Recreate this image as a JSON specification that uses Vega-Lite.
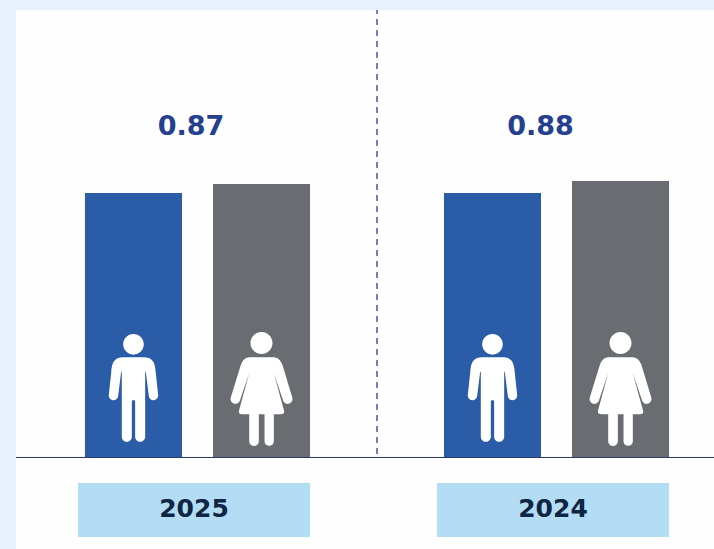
{
"$schema":"https://vega.github.io/schema/vega-lite/v6.json",
"width":698,"height":539,
"autosize":{"type":"none"},
"padding":{"left":16,"top":10,"right":0,"bottom":0},
"background":"#e8f1fb",
"view":{"fill":"#fefefe","stroke":null},
"datasets":{
"bars":[
{"year":"2025","sex":"Male","value":264},
{"year":"2025","sex":"Female","value":273},
{"year":"2024","sex":"Male","value":264},
{"year":"2024","sex":"Female","value":276}],
"years":[{"year":"2025","ratio":"0.87"},{"year":"2024","ratio":"0.88"}]
},
"data":{"name":"bars"},
"encoding":{
"x":{"field":"year","type":"nominal","axis":null,"sort":null,"scale":{"domain":["2025","2024"],"range":[2,720],"paddingInner":0,"paddingOuter":0}}
},
"layer":[
{"mark":{"type":"bar","cornerRadius":0},
"encoding":{
"xOffset":{"field":"sex","type":"nominal","sort":null,"scale":{"domain":["Male","Female"],"paddingInner":0.242,"paddingOuter":0.523}},
"y":{"field":"value","type":"quantitative","axis":null,"stack":null,"scale":{"domain":[-92,447],"nice":false,"zero":false}},
"color":{"field":"sex","type":"nominal","legend":null,"scale":{"domain":["Male","Female"],"range":["#2a5ca8","#696c70"]}}
}},
{"mark":{"type":"point","filled":true,"color":"#ffffff","opacity":1,"size":12996},
"encoding":{
"xOffset":{"field":"sex","type":"nominal","sort":null},
"y":{"datum":68},
"shape":{"field":"sex","type":"nominal","legend":null,"scale":{"domain":["Male","Female"],"range":[
"M-0.181,-0.783A0.181,0.181,0,1,1,0.181,-0.783A0.181,0.181,0,1,1,-0.181,-0.783ZM-0.175,-0.555L0.175,-0.555C0.351,-0.555,0.380,-0.450,0.392,-0.275L0.433,0.106A0.082,0.082,0,0,1,0.269,0.123L0.216,-0.304L0.205,-0.304L0.205,0.836A0.088,0.088,0,0,1,0.029,0.836L0.029,0.222A0.029,0.029,0,0,0,-0.029,0.222L-0.029,0.836A0.088,0.088,0,0,1,-0.205,0.836L-0.205,-0.304L-0.216,-0.304L-0.269,0.123A0.082,0.082,0,0,1,-0.433,0.106L-0.392,-0.275C-0.380,-0.450,-0.351,-0.555,-0.175,-0.555Z",
"M-0.193,-0.807A0.193,0.193,0,1,1,0.193,-0.807A0.193,0.193,0,1,1,-0.193,-0.807ZM-0.193,-0.556L0.187,-0.556C0.287,-0.556,0.333,-0.509,0.368,-0.421L0.538,0.146A0.082,0.082,0,0,1,0.380,0.205L0.216,-0.275L0.392,0.368Q0.421,0.444,0.333,0.444L0.216,0.444L0.216,0.924A0.082,0.082,0,0,1,0.053,0.924L0.053,0.444L-0.047,0.444L-0.047,0.924A0.085,0.085,0,0,1,-0.216,0.924L-0.216,0.444L-0.322,0.444Q-0.421,0.444,-0.392,0.368L-0.216,-0.275L-0.380,0.205A0.082,0.082,0,0,1,-0.538,0.146L-0.363,-0.421C-0.333,-0.509,-0.281,-0.556,-0.193,-0.556Z"
]}}
}},
{"mark":{"type":"rule","color":"#2a3a70","strokeWidth":1},
"encoding":{"x":{"value":0},"x2":{"value":698},"y":{"datum":-0.5}}},
{"mark":{"type":"rule","color":"#7a7fb0","strokeWidth":1.5,"strokeDash":[6,5],"strokeDashOffset":2},
"encoding":{"x":{"datum":"2024","bandPosition":0},"y":{"datum":447},"y2":{"datum":0}}},
{"data":{"name":"years"},"mark":{"type":"rect","color":"#b3ddf4","width":232,"xOffset":-3.5},
"encoding":{"y":{"datum":-26},"y2":{"datum":-80}}},
{"data":{"name":"years"},"mark":{"type":"text","font":"DejaVu Sans","fontWeight":"bold","fontSize":25,"color":"#0f2544","baseline":"middle","align":"center","xOffset":-3.5},
"encoding":{"y":{"datum":-52},"text":{"field":"year"}}},
{"data":{"name":"years"},"transform":[{"filter":"datum.year==='2025'"}],"mark":{"type":"text","font":"DejaVu Sans","fontWeight":"bold","fontSize":27,"color":"#24408e","baseline":"middle","align":"center","xOffset":-6.5},
"encoding":{"y":{"datum":330},"text":{"field":"ratio"}}},
{"data":{"name":"years"},"transform":[{"filter":"datum.year==='2024'"}],"mark":{"type":"text","font":"DejaVu Sans","fontWeight":"bold","fontSize":27,"color":"#24408e","baseline":"middle","align":"center","xOffset":-16},
"encoding":{"y":{"datum":330},"text":{"field":"ratio"}}}
]
}
